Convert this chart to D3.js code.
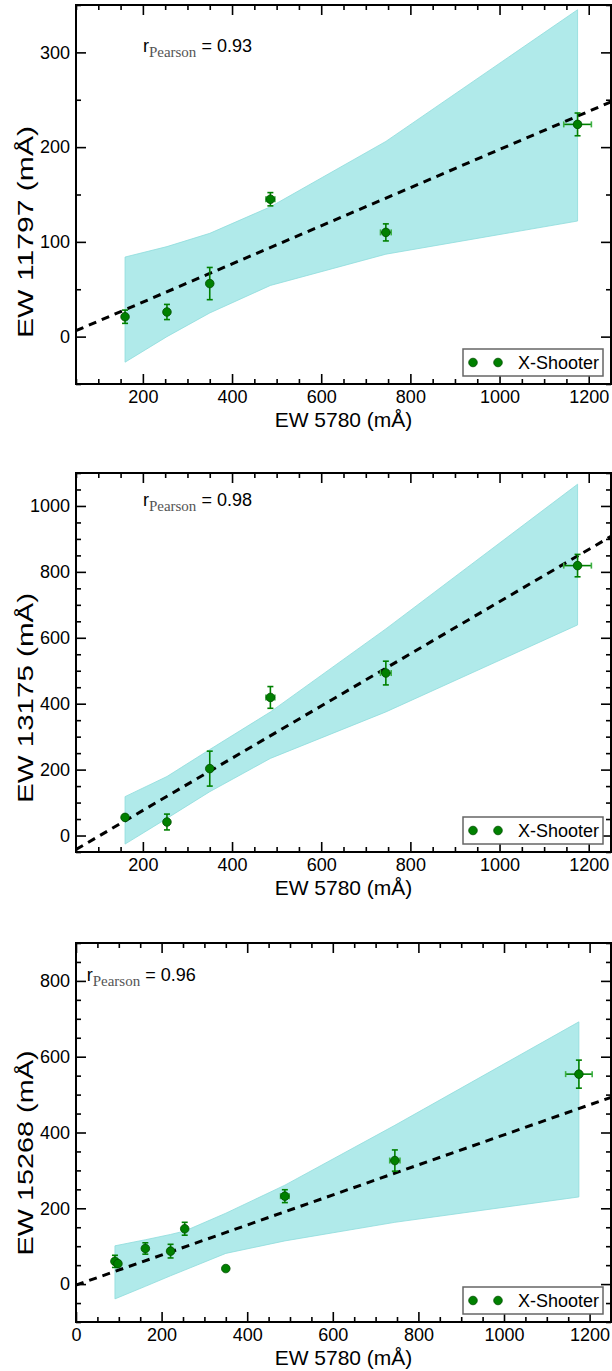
<!DOCTYPE html>
<html>
<head>
<meta charset="utf-8">
<script src="https://cdn.jsdelivr.net/npm/d3@7"></script>
<style>
  body { margin: 0; background: #fff; }
  text { font-family: "Liberation Sans", Arial, sans-serif; }
</style>
</head>
<body>
<script>
// EW of the 5780 band (x axis), X-Shooter sample
let ew5780 = [160, 254, 350, 486, 745, 1175];
let ew5780Err = [3, 4, 4, 10, 12, 31];
let ew5780All = [91, 98, 162, 221, 254, 350, 488, 745, 1175];
let ew5780AllErr = [3, 3, 3, 3, 4, 4, 10, 12, 31];

// y values per panel
let ew11797 = [21, 26, 56, 145, 110, 224];
let ew11797Err = [7, 8, 17, 7, 9, 12];
let ew13175 = [55, 41, 203, 419, 493, 819];
let ew13175Err = [4, 24, 53, 33, 36, 34];
let ew15268 = [60, 54, 94, 87, 146, 41, 232, 326, 554];
let ew15268Err = [16, 6, 15, 18, 17, 4, 17, 28, 37];

// confidence band (upper / lower) at the sample x's
let band11797Hi = [84, 95, 109, 137, 206, 345];
let band11797Lo = [-27, 0, 25, 54, 87, 122];
let band13175Hi = [118, 179, 261, 375, 627, 1066];
let band13175Lo = [-26, 52, 133, 234, 375, 639];
let band5780All = [91, 162, 221, 254, 350, 488, 745, 1175];
let band15268Hi = [101, 117, 131, 140, 187, 261, 419, 692];
let band15268Lo = [-39, -6, 22, 37, 81, 114, 163, 230];

// linear fits [slope, intercept]
let fit11797 = [0.2013, -3.8];
let fit13175 = [0.7918, -82.1];
let fit15268 = [0.3964, -2.6];

let pearson = ["0.93", "0.98", "0.96"];
let yLabels = ["EW 11797 (mÅ)", "EW 13175 (mÅ)", "EW 15268 (mÅ)"];

let panels = [
  {top: 5, xDom: [50, 1250], yDom: [-50, 350], yMajor: 100, x: ew5780, xErr: ew5780Err, y: ew11797, yErr: ew11797Err,
   bx: ew5780, hi: band11797Hi, lo: band11797Lo, fit: fit11797, r: pearson[0], rPos: [200, 300], label: yLabels[0],
   labMid: 227, labLen: 212},
  {top: 473, xDom: [50, 1250], yDom: [-50, 1100], yMajor: 200, x: ew5780, xErr: ew5780Err, y: ew13175, yErr: ew13175Err,
   bx: ew5780, hi: band13175Hi, lo: band13175Lo, fit: fit13175, r: pearson[1], rPos: [200, 1000], label: yLabels[1],
   labMid: 225, labLen: 210},
  {top: 943, xDom: [0, 1250], yDom: [-100, 900], yMajor: 200, x: ew5780All, xErr: ew5780AllErr, y: ew15268, yErr: ew15268Err,
   bx: band5780All, hi: band15268Hi, lo: band15268Lo, fit: fit15268, r: pearson[2], rPos: [25, 800], label: yLabels[2],
   labMid: 210, labLen: 205}
];

let left = 76, w = 535, h = 379;
let green = "#008000";

let svg = d3.select("body").append("svg")
  .attr("width", 612)
  .attr("height", 1371);

panels.forEach(drawPanel);

function range(a, b, step){
  let out = [];
  for (let v = Math.ceil(a / step) * step; v <= b + 1e-9; v += step) out.push(v);
  return out;
}

function drawPanel(p, i){
  let g = svg.append("g").attr("transform", "translate(" + left + "," + p.top + ")");
  let x = d3.scaleLinear().domain(p.xDom).range([0, w]);
  let y = d3.scaleLinear().domain(p.yDom).range([h, 0]);

  g.append("clipPath").attr("id", "clip" + i)
    .append("rect").attr("width", w).attr("height", h);
  let inner = g.append("g").attr("clip-path", "url(#clip" + i + ")");

  // band
  let bandData = p.bx.map((d, k) => [d, p.lo[k], p.hi[k]]);
  inner.append("path")
    .datum(bandData)
    .attr("d", d3.area().x(d => x(d[0])).y0(d => y(d[1])).y1(d => y(d[2])))
    .attr("fill", "#b0eaea")
    .attr("stroke", "#8edcdc")
    .attr("stroke-width", 0.8);

  // fit line
  inner.append("line")
    .attr("x1", x(p.xDom[0])).attr("y1", y(p.fit[0] * p.xDom[0] + p.fit[1]))
    .attr("x2", x(p.xDom[1])).attr("y2", y(p.fit[0] * p.xDom[1] + p.fit[1]))
    .attr("stroke", "#000")
    .attr("stroke-width", 3)
    .attr("stroke-dasharray", "8,6");

  // error bars
  let pts = p.x.map((d, k) => ({x: d, y: p.y[k], xe: p.xErr[k], ye: p.yErr[k]}));
  let eb = inner.append("g").attr("stroke", green).attr("stroke-width", 1.6);
  pts.forEach(d => {
    let cx = x(d.x), cy = y(d.y);
    eb.append("line").attr("x1", cx).attr("x2", cx).attr("y1", y(d.y - d.ye)).attr("y2", y(d.y + d.ye));
    eb.append("line").attr("x1", cx - 3).attr("x2", cx + 3).attr("y1", y(d.y - d.ye)).attr("y2", y(d.y - d.ye));
    eb.append("line").attr("x1", cx - 3).attr("x2", cx + 3).attr("y1", y(d.y + d.ye)).attr("y2", y(d.y + d.ye));
    eb.append("line").attr("y1", cy).attr("y2", cy).attr("x1", x(d.x - d.xe)).attr("x2", x(d.x + d.xe));
    eb.append("line").attr("y1", cy - 3).attr("y2", cy + 3).attr("x1", x(d.x - d.xe)).attr("x2", x(d.x - d.xe)).attr("stroke", "#3cb043");
    eb.append("line").attr("y1", cy - 3).attr("y2", cy + 3).attr("x1", x(d.x + d.xe)).attr("x2", x(d.x + d.xe)).attr("stroke", "#3cb043");
  });

  inner.selectAll("circle").data(pts)
    .enter()
      .append("circle")
      .attr("cx", d => x(d.x))
      .attr("cy", d => y(d.y))
      .attr("r", 4.3)
      .attr("fill", green)
      .attr("stroke", "#004d00")
      .attr("stroke-width", 0.8);

  // axes: major + minor on all four sides, ticks inward
  let xMaj = range(p.xDom[0], p.xDom[1], 200);
  let xMin = range(p.xDom[0], p.xDom[1], 50).filter(v => v % 200 != 0);
  let yMaj = range(p.yDom[0], p.yDom[1], p.yMajor).filter(v => v >= 0);
  let yMin = range(p.yDom[0], p.yDom[1], 50).filter(v => v % p.yMajor != 0 || v < 0);

  let axes = [
    [d3.axisBottom(x), "translate(0," + h + ")", xMaj, xMin, true],
    [d3.axisTop(x), "translate(0,0)", xMaj, xMin, false],
    [d3.axisLeft(y), "translate(0,0)", yMaj, yMin, true],
    [d3.axisRight(y), "translate(" + w + ",0)", yMaj, yMin, false]
  ];
  axes.forEach(a => {
    let ax = g.append("g").attr("transform", a[1])
      .call(a[0].tickValues(a[2]).tickSize(-10).tickPadding(a[4] ? 6 : 0).tickFormat(a[4] ? d3.format("d") : ""));
    ax.select(".domain").remove();
    ax.selectAll("line").attr("stroke-width", 1.6);
    ax.selectAll("text").attr("font-size", 18).attr("fill", "#000").attr("font-family", "Liberation Sans, Arial, sans-serif");
    let ax2 = g.append("g").attr("transform", a[1])
      .call(a[0].tickValues(a[3]).tickSize(-5).tickFormat(""));
    ax2.select(".domain").remove();
    ax2.selectAll("line").attr("stroke-width", 1.6);
  });

  g.append("rect")
    .attr("width", w).attr("height", h)
    .attr("fill", "none")
    .attr("stroke", "#000")
    .attr("stroke-width", 2);

  // axis labels
  g.append("text")
    .attr("x", w / 2).attr("y", h + 43)
    .attr("text-anchor", "middle")
    .attr("font-size", 21)
    .text("EW 5780 (mÅ)");
  g.append("text")
    .attr("transform", "translate(" + (-43) + "," + p.labMid + ") rotate(-90)")
    .attr("x", -p.labLen / 2)
    .attr("font-size", 22)
    .attr("textLength", p.labLen)
    .attr("lengthAdjust", "spacingAndGlyphs")
    .text(p.label);

  // pearson r
  let t = g.append("text")
    .attr("x", x(p.rPos[0])).attr("y", y(p.rPos[1]))
    .attr("font-size", 18);
  t.append("tspan").text("r");
  t.append("tspan").attr("dy", 5).attr("font-size", 15).attr("fill", "#555")
    .attr("font-family", "Liberation Serif, Times New Roman, serif").text("Pearson");
  t.append("tspan").attr("dy", -5).text(" = " + p.r);

  // legend
  let lg = g.append("g").attr("transform", "translate(" + (w - 148) + "," + (h - 35) + ")");
  lg.append("rect").attr("width", 140).attr("height", 27)
    .attr("fill", "#fff").attr("stroke", "#666").attr("stroke-width", 1.5);
  lg.selectAll("circle").data([0, 1]).enter().append("circle")
    .attr("cx", d => 10 + d * 25).attr("cy", 13.5).attr("r", 4.3)
    .attr("fill", green).attr("stroke", "#004d00").attr("stroke-width", 0.8);
  lg.append("text").attr("x", 55).attr("y", 20).attr("font-size", 18).text("X-Shooter");
}
</script>
</body>
</html>
